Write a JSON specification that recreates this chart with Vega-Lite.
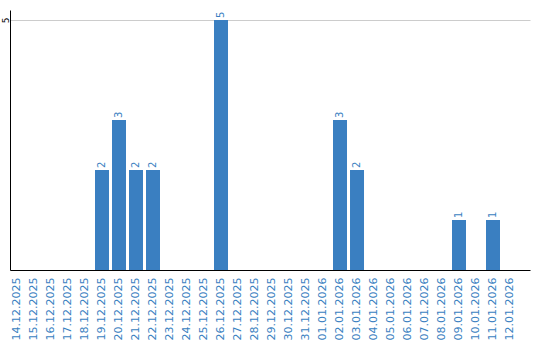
{
  "$schema": "https://vega.github.io/schema/vega-lite/v6.json",
  "autosize": "none",
  "width": 520,
  "height": 260,
  "padding": {"left": 10, "top": 10, "right": 10, "bottom": 70},
  "background": "white",
  "config": {"view": {"stroke": null}, "font": "DejaVu Sans"},
  "data": {"values": [
    {"date": "14.12.2025", "value": 0},
    {"date": "15.12.2025", "value": 0},
    {"date": "16.12.2025", "value": 0},
    {"date": "17.12.2025", "value": 0},
    {"date": "18.12.2025", "value": 0},
    {"date": "19.12.2025", "value": 2},
    {"date": "20.12.2025", "value": 3},
    {"date": "21.12.2025", "value": 2},
    {"date": "22.12.2025", "value": 2},
    {"date": "23.12.2025", "value": 0},
    {"date": "24.12.2025", "value": 0},
    {"date": "25.12.2025", "value": 0},
    {"date": "26.12.2025", "value": 5},
    {"date": "27.12.2025", "value": 0},
    {"date": "28.12.2025", "value": 0},
    {"date": "29.12.2025", "value": 0},
    {"date": "30.12.2025", "value": 0},
    {"date": "31.12.2025", "value": 0},
    {"date": "01.01.2026", "value": 0},
    {"date": "02.01.2026", "value": 3},
    {"date": "03.01.2026", "value": 2},
    {"date": "04.01.2026", "value": 0},
    {"date": "05.01.2026", "value": 0},
    {"date": "06.01.2026", "value": 0},
    {"date": "07.01.2026", "value": 0},
    {"date": "08.01.2026", "value": 0},
    {"date": "09.01.2026", "value": 1},
    {"date": "10.01.2026", "value": 0},
    {"date": "11.01.2026", "value": 1},
    {"date": "12.01.2026", "value": 0}
  ]},
  "encoding": {
    "x": {
      "field": "date", "type": "nominal", "sort": null,
      "scale": {"paddingInner": 0.1765, "paddingOuter": 0.382, "align": 0},
      "axis": {
        "title": null, "labelAngle": -90, "labelColor": "#3a7fc1",
        "labelFontSize": 11, "ticks": false, "domainColor": "#000000",
        "domainWidth": 1, "labelPadding": 7
      }
    },
    "y": {
      "field": "value", "type": "quantitative",
      "scale": {"domain": [0, 5.2], "nice": false},
      "axis": {
        "title": null, "values": [5], "ticks": false, "grid": true,
        "gridColor": "#cccccc", "domainColor": "#000000", "domainWidth": 1,
        "labelAngle": -90, "labelFontSize": 9, "labelColor": "#000000",
        "labelPadding": 5, "labelAlign": "center", "labelBaseline": "middle"
      }
    }
  },
  "layer": [
    {"mark": {"type": "bar", "color": "#3a7fc1"}},
    {
      "transform": [{"filter": "datum.value > 0"}],
      "mark": {"type": "text", "angle": 270, "align": "left", "baseline": "middle", "dx": 2, "fontSize": 10, "color": "#3a7fc1"},
      "encoding": {"text": {"field": "value", "type": "quantitative"}}
    }
  ]
}
